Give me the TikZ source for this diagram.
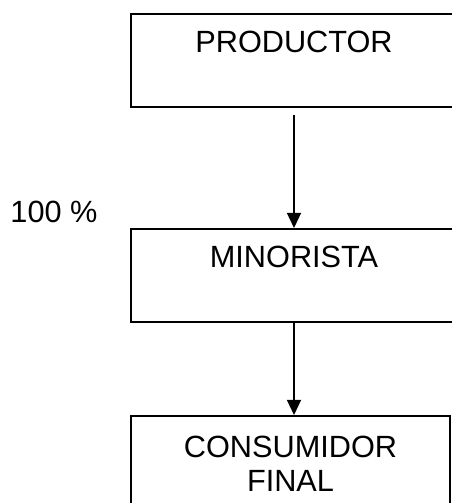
\documentclass[tikz,border=0pt]{standalone}
\usepackage{fontspec}
\setmainfont{Liberation Sans}
\usetikzlibrary{arrows.meta}

\begin{document}
\begin{tikzpicture}[x=1pt, y=1pt,
    caja/.style={draw, line width=2pt, inner sep=0pt, minimum width=319pt,
        text height=39pt, text depth=54pt, font=\fontsize{30.7}{33}\selectfont},
    flecha/.style={-{Triangle[width=14pt,length=15pt]}, line width=1.3pt}]
    \clip (0,0) rectangle (452,503);
    \useasboundingbox (0,0) rectangle (452,503);

    % --- cajas del canal ---
    \node[caja, minimum width=326pt] (productor) at (294, 442.5) {PRODUCTOR};
    \node[caja, minimum width=326pt] (minorista) at (294, 227.5) {MINORISTA};
    \node[caja, anchor=north, align=center, text height=75pt, text depth=30pt]
        (consumidor) at (290.5, 88) {CONSUMIDOR\\FINAL};

    % porcentaje
    \node[anchor=base, font=\fontsize{30.7}{34}\selectfont] (porcentaje) at (54, 280) {100 \%};

    % --- flechas ---
    \draw[flecha, shorten <=7pt] (productor.south) -- (minorista.north);
    \draw[flecha] (minorista.south) -- (minorista.south |- consumidor.north);
\end{tikzpicture}
\end{document}
